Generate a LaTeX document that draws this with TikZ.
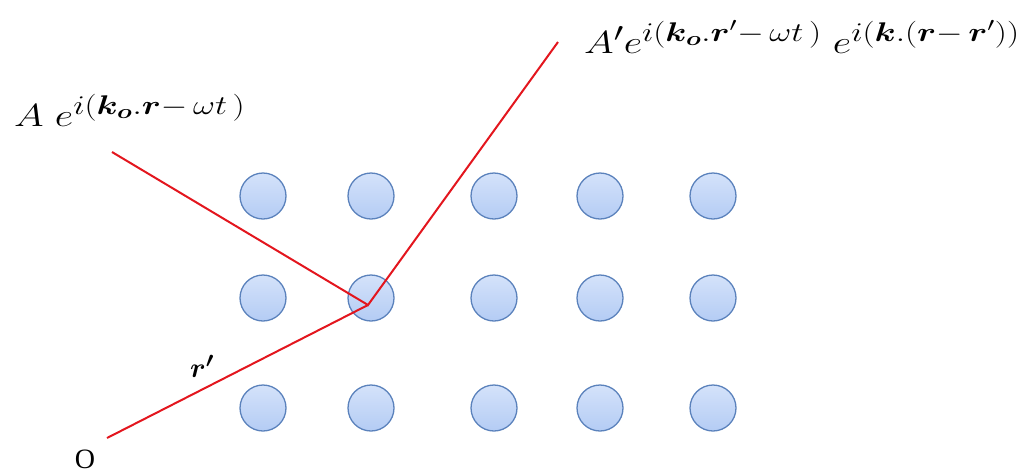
\RequirePackage{fix-cm}
\documentclass[tikz,border=0pt]{standalone}
\usepackage{amsmath,bm,graphicx}
\usepackage{fontspec}
\newfontfamily\tnr{Liberation Serif}
\DeclareMathSizes{32}{32}{27}{20}
\DeclareMathSizes{28}{28}{22}{16}
\definecolor{atomfill}{HTML}{B4CCF4}
\definecolor{atomtop}{HTML}{D4E2FA}
\definecolor{atomedge}{HTML}{5B82BC}
\definecolor{rayred}{HTML}{E3161E}
\begin{document}
\begin{tikzpicture}[x=1pt,y=-1pt,
  atom/.style={circle,draw=atomedge,line width=1.3pt,minimum size=46pt,inner sep=0pt,top color=atomtop,bottom color=atomfill},
  ray/.style={draw=rayred,line width=2pt},
  lbl/.style={inner sep=0pt,font=\fontsize{32}{38}\selectfont}]
\useasboundingbox (0,0) rectangle (1029,475);
\foreach \x/\i in {263/1,371/2,494/3,600/4,713/5}{
  \foreach \y/\j in {196/1,298/2,408/3}{
    \node[atom] (a\i\j) at (\x,\y) {};
  }
}
\coordinate (P) at (368,305);
\coordinate (in) at (112,152);
\coordinate (out) at (558,42);
\coordinate (o) at (107,438);
\draw[ray] (in) -- (P) -- (out);
\draw[ray] (o) -- (P);
\node[lbl,anchor=base west] (L1) at (14,126) {\scalebox{1.26}[1]{$A\;e^{i(\bm{k_o}.\bm{r}-\,\omega t\,)}$}};
\node[lbl,anchor=base west] (L2) at (584,53) {\scalebox{1.26}[1]{$A'e^{i(\bm{k_o}.\bm{r}'-\,\omega t\,)}\;e^{i(\bm{k}.(\bm{r}-\,\bm{r}'))}$}};
\node[inner sep=0pt,font=\fontsize{28}{32}\selectfont] (rp) at (202,366) {$\bm{r'}$};
\node[inner sep=0pt,font=\tnr\fontsize{28}{32}\selectfont,anchor=base] (O) at (85,468) {O};
\end{tikzpicture}
\end{document}
